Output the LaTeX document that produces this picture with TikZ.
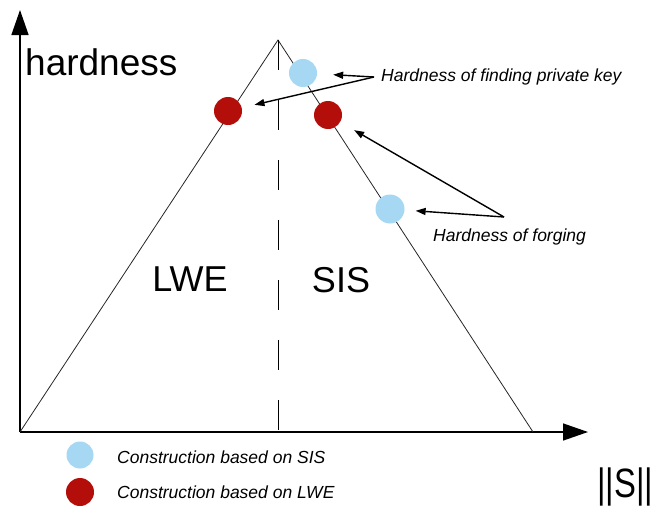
\documentclass[tikz,border=0pt]{standalone}
\usepackage{fontspec}
\setmainfont{Liberation Sans}
\usetikzlibrary{arrows.meta}
\definecolor{sisblue}{RGB}{166,216,244}
\definecolor{lwered}{RGB}{180,14,10}
\begin{document}
\begin{tikzpicture}[x=1pt,y=-1pt,
  axis/.style={line width=1.4pt,-{Triangle[length=25pt,width=17pt]}},
  edgeline/.style={line width=0.8pt,draw=black!85},
  dot/.style={circle,minimum size=28pt,inner sep=0pt},
  sisdot/.style={dot,fill=sisblue},
  lwedot/.style={dot,fill=lwered},
  note/.style={font=\fontsize{17.5}{20}\selectfont\itshape,inner sep=0pt,anchor=base west},
  big/.style={font=\fontsize{36}{40}\selectfont,inner sep=0pt},
  ptr/.style={line width=1.4pt,-{Triangle[length=10pt,width=7pt]},shorten >=13pt}]
\useasboundingbox (0,0) rectangle (658,506);

% axes
\coordinate (O) at (20,432);
\coordinate (ytop) at (20,10);
\coordinate (xend) at (588,432);
\draw[axis] (O) -- (ytop);
\draw[axis] (O) -- (xend);

% triangle
\coordinate (apex) at (278,40);
\coordinate (bl) at (20,432);
\coordinate (br) at (533,432);
\draw[edgeline] (bl) -- (apex) -- (br);
\coordinate (mid) at (278,432);
\draw[line width=1pt,dash pattern=on 30pt off 30pt] (apex) -- (mid);

% axis labels
\node[inner sep=0pt,anchor=base west,font=\fontsize{37}{40}\selectfont] (hard) at (25,75) {hardness};
\node[inner sep=0pt,anchor=base west,font=\fontsize{41}{44}\selectfont] (norm) at (597,497) {\scalebox{0.8}[1]{||S||}};

% region labels
\node[big] (lwe) at (190,279) {LWE};
\node[big] (sis) at (341,280) {SIS};

% points
\node[sisdot] (b1) at (303,73) {};
\node[lwedot] (r1) at (228,111) {};
\node[lwedot] (r2) at (328,115) {};
\node[sisdot,minimum size=29pt] (b2) at (390,209) {};

% annotations
\node[note] (t1) at (381,81.5) {Hardness of finding private key};
\node[note] (t2) at (433,241) {Hardness of forging};
\coordinate (k1) at (374,77);
\coordinate (k2) at (504,217);
\draw[ptr,shorten >=16pt] (k1) -- (b1);
\draw[ptr] (k1) -- (r1);
\draw[ptr,shorten >=16pt] (k2) -- (r2);
\draw[ptr,shorten >=11pt] (k2) -- (b2);

% legend
\node[sisdot,minimum size=27pt] (lb) at (80,455) {};
\node[lwedot] (lr) at (80,492) {};
\node[note] (lt1) at (117,463) {Construction based on SIS};
\node[note] (lt2) at (117,498) {Construction based on LWE};
\end{tikzpicture}
\end{document}
